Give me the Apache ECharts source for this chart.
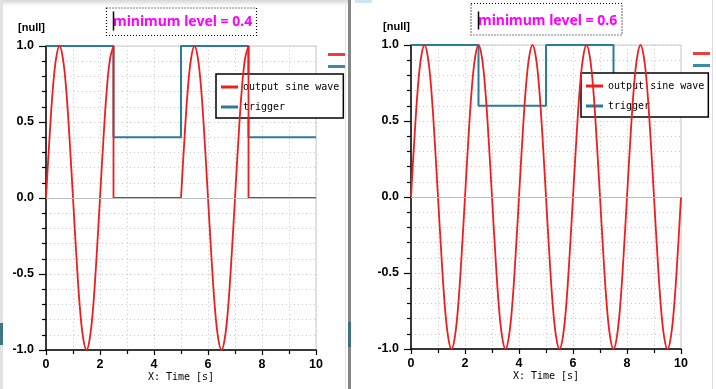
<!DOCTYPE html>
<html>
<head>
<meta charset="utf-8">
<script src="https://cdn.jsdelivr.net/npm/echarts@6/dist/echarts.min.js"></script>
<style>
html,body{margin:0;padding:0;background:#fff;}
#chart{width:716px;height:389px;}
</style>
</head>
<body>
<div id="chart"></div>
<script>
// ---------- data ----------
const seriesNames = ['output sine wave', 'trigger'];
const annotationTexts = ['minimum level = 0.4', 'minimum level = 0.6'];
const yAxisName = '[null]';
const xAxisName = 'X: Time [s]';

// left panel (minimum level = 0.4)
const leftSineTimesA = [0,0.125,0.25,0.375,0.5,0.625,0.75,0.875,1,1.125,1.25,1.375,1.5,1.625,1.75,1.875,2,2.125,2.25,2.375,2.5];
const leftSineValuesA = [0,0.38,0.71,0.92,1,0.92,0.71,0.38,0,-0.38,-0.71,-0.92,-1,-0.92,-0.71,-0.38,0,0.38,0.71,0.92,1];
const leftSineTimesB = [5,5.125,5.25,5.375,5.5,5.625,5.75,5.875,6,6.125,6.25,6.375,6.5,6.625,6.75,6.875,7,7.125,7.25,7.375,7.5];
const leftSineValuesB = [0,0.38,0.71,0.92,1,0.92,0.71,0.38,0,-0.38,-0.71,-0.92,-1,-0.92,-0.71,-0.38,0,0.38,0.71,0.92,1];
const leftHoldTimesA = [2.5,2.5,5];
const leftHoldValuesA = [1,0,0];
const leftHoldTimesB = [7.5,7.5,10];
const leftHoldValuesB = [1,0,0];
const triggerTimes = [0,2.5,2.5,5,5,7.5,7.5,10];
const leftTriggerValues = [1,1,0.4,0.4,1,1,0.4,0.4];

// right panel (minimum level = 0.6)
const rightSineTimes = [
  0,0.125,0.25,0.375,0.5,0.625,0.75,0.875,1,1.125,1.25,1.375,1.5,1.625,1.75,1.875,
  2,2.125,2.25,2.375,2.5,2.625,2.75,2.875,3,3.125,3.25,3.375,3.5,3.625,3.75,3.875,
  4,4.125,4.25,4.375,4.5,4.625,4.75,4.875,5,5.125,5.25,5.375,5.5,5.625,5.75,5.875,
  6,6.125,6.25,6.375,6.5,6.625,6.75,6.875,7,7.125,7.25,7.375,7.5,7.625,7.75,7.875,
  8,8.125,8.25,8.375,8.5,8.625,8.75,8.875,9,9.125,9.25,9.375,9.5,9.625,9.75,9.875,
  10];
const rightSineValues = [
  0,0.38,0.71,0.92,1,0.92,0.71,0.38,0,-0.38,-0.71,-0.92,-1,-0.92,-0.71,-0.38,
  0,0.38,0.71,0.92,1,0.92,0.71,0.38,0,-0.38,-0.71,-0.92,-1,-0.92,-0.71,-0.38,
  0,0.38,0.71,0.92,1,0.92,0.71,0.38,0,-0.38,-0.71,-0.92,-1,-0.92,-0.71,-0.38,
  0,0.38,0.71,0.92,1,0.92,0.71,0.38,0,-0.38,-0.71,-0.92,-1,-0.92,-0.71,-0.38,
  0,0.38,0.71,0.92,1,0.92,0.71,0.38,0,-0.38,-0.71,-0.92,-1,-0.92,-0.71,-0.38,
  0];
const rightTriggerValues = [1,1,0.6,0.6,1,1,0.6,0.6];

// axis ranges / ticks
const xMin = 0, xMax = 10, xInterval = 2;
const yMin = -1, yMax = 1, yInterval = 0.5;

// ---------- build ----------
const zip = (xs, ys) => xs.map((x, i) => [x, ys[i]]);
const RED = '#ee1e1e';
const TEAL = '#2a7c99';
const GRIDC = '#c9c9c9';

function xAxisFor(gi) {
  return {
    type: 'value', gridIndex: gi, min: xMin, max: xMax, interval: xInterval,
    axisLine: { show: true, onZero: false, lineStyle: { color: '#000', width: 1.5 } },
    axisTick: { show: true, length: 5, lineStyle: { color: '#000', width: 1.2 } },
    minorTick: { show: true, splitNumber: 2, length: 4, lineStyle: { color: '#000', width: 1.2 } },
    axisLabel: { color: '#000', fontFamily: 'Liberation Sans', fontWeight: 'bold', fontSize: 12.5, margin: 8 },
    splitLine: { show: true, lineStyle: { color: GRIDC, type: [1, 3], width: 1 } },
    minorSplitLine: { show: true, lineStyle: { color: GRIDC, type: [1, 3], width: 1 } },
    name: xAxisName, nameLocation: 'middle', nameGap: 15, nameMoveOverlap: false,
    nameTextStyle: { fontFamily: 'DejaVu Sans Mono', fontSize: 10, color: '#000', backgroundColor: '#fff',
      padding: [6, 10, 4, 10], lineHeight: 12 }
  };
}
function yAxisFor(gi) {
  return {
    type: 'value', gridIndex: gi, min: yMin, max: yMax, interval: yInterval,
    axisLine: { show: true, onZero: false, lineStyle: { color: '#000', width: 1.5 } },
    axisTick: { show: true, length: 7, lineStyle: { color: '#000', width: 1.2 } },
    minorTick: { show: true, splitNumber: 5, length: 4, lineStyle: { color: '#000', width: 1.2 } },
    axisLabel: { color: '#000', fontFamily: 'Liberation Sans', fontWeight: 'bold', fontSize: 12.5, margin: 12,
      formatter: v => v.toFixed(1) },
    splitLine: { show: true, lineStyle: { color: GRIDC, type: [1, 3], width: 1 } },
    minorSplitLine: { show: true, lineStyle: { color: GRIDC, type: [1, 3], width: 1 } },
    name: yAxisName, nameLocation: 'end', nameGap: 18, nameMoveOverlap: false,
    nameTextStyle: { fontFamily: 'Liberation Sans', fontWeight: 'bold', fontSize: 11, color: '#000',
      align: 'right', verticalAlign: 'middle', padding: [0, 1, 0, 0] }
  };
}
function outSeries(gi, data, smooth) {
  return {
    type: 'line', name: seriesNames[0], xAxisIndex: gi, yAxisIndex: gi, data: data,
    showSymbol: false, symbol: 'none', smooth: smooth, z: 4,
    lineStyle: { color: RED, width: 1.8 }, itemStyle: { color: RED }
  };
}
function trigSeries(gi, data) {
  return {
    type: 'line', name: seriesNames[1], xAxisIndex: gi, yAxisIndex: gi, data: data,
    showSymbol: false, symbol: 'none', z: 3,
    lineStyle: { color: TEAL, width: 2 }, itemStyle: { color: TEAL },
    markLine: { silent: true, symbol: 'none', label: { show: false }, animation: false,
      lineStyle: { color: '#bdbdbd', type: 'solid', width: 1 }, data: [{ yAxis: 0 }] }
  };
}
function legendFor(left, top) {
  return {
    orient: 'vertical', left: left, top: top, data: seriesNames,
    icon: 'rect', itemWidth: 17, itemHeight: 3, itemGap: 8,
    padding: [7, 4, 5, 5], backgroundColor: '#fff', borderColor: '#000', borderWidth: 1.5,
    textStyle: { fontFamily: 'DejaVu Sans Mono', fontSize: 10, color: '#000', lineHeight: 12 },
    selectedMode: false
  };
}

const chart = echarts.init(document.getElementById('chart'), null, { renderer: 'canvas' });
const option = {
  animation: false,
  backgroundColor: '#fff',
  grid: [
    { left: 46, top: 46, width: 270, height: 304, show: true, borderColor: '#c8c8c8', borderWidth: 1,
      backgroundColor: 'transparent', containLabel: false, outerBoundsMode: 'none' },
    { left: 411, top: 45, width: 270, height: 304, show: true, borderColor: '#c8c8c8', borderWidth: 1,
      backgroundColor: 'transparent', containLabel: false, outerBoundsMode: 'none' }
  ],
  xAxis: [xAxisFor(0), xAxisFor(1)],
  yAxis: [yAxisFor(0), yAxisFor(1)],
  legend: [legendFor(216, 74), legendFor(581, 73)],
  series: [
    trigSeries(0, zip(triggerTimes, leftTriggerValues)),
    outSeries(0, zip(leftSineTimesA, leftSineValuesA), 0.4),
    outSeries(0, zip(leftSineTimesB, leftSineValuesB), 0.4),
    outSeries(0, zip(leftHoldTimesA, leftHoldValuesA), false),
    outSeries(0, zip(leftHoldTimesB, leftHoldValuesB), false),
    trigSeries(1, zip(triggerTimes, rightTriggerValues)),
    outSeries(1, zip(rightSineTimes, rightSineValues), 0.4)
  ],
  graphic: [
    // window chrome
    { type: 'rect', shape: { x: 0, y: 0, width: 348, height: 6 }, z: 0,
      style: { fill: new echarts.graphic.LinearGradient(0, 0, 0, 1, [{ offset: 0, color: '#d6d6d6' }, { offset: 1, color: '#ffffff' }]) } },
    { type: 'rect', shape: { x: 0, y: 0, width: 3, height: 389 }, z: 0, style: { fill: '#e2e2e2' } },
    { type: 'rect', shape: { x: 0, y: 323, width: 3, height: 22 }, z: 0, style: { fill: '#3f7585' } },
    { type: 'rect', shape: { x: 345, y: 0, width: 1, height: 389 }, z: 0, style: { fill: '#e4e4e4' } },
    { type: 'rect', shape: { x: 348, y: 0, width: 3, height: 389 }, z: 0, style: { fill: '#858585' } },
    { type: 'rect', shape: { x: 348, y: 322, width: 3, height: 25 }, z: 0, style: { fill: '#3f6f7c' } },
    { type: 'rect', shape: { x: 355, y: 0, width: 17, height: 3 }, z: 0, style: { fill: '#cfe4f3' } },
    { type: 'rect', shape: { x: 712, y: 0, width: 1, height: 389 }, z: 0, style: { fill: '#dcdcdc' } },
    // cut-off legends at right edges
    { type: 'rect', shape: { x: 328, y: 53, width: 17, height: 3 }, z: 5, style: { fill: '#e84040' } },
    { type: 'rect', shape: { x: 328, y: 65, width: 17, height: 3 }, z: 5, style: { fill: '#3c8aa6' } },
    { type: 'rect', shape: { x: 693, y: 52, width: 17, height: 3 }, z: 5, style: { fill: '#e84040' } },
    { type: 'rect', shape: { x: 693, y: 64, width: 17, height: 3 }, z: 5, style: { fill: '#3c8aa6' } },
    // annotation boxes
    { type: 'rect', shape: { x: 106.5, y: 8, width: 150, height: 27.5 }, z: 5,
      style: { fill: '#fff', stroke: '#000', lineWidth: 1.2, lineDash: [1, 2] } },
    { type: 'text', x: 113, y: 22.5, z: 6,
      style: { text: annotationTexts[0], fill: '#f0f', font: 'bold 14px "Noto Sans"', verticalAlign: 'middle', align: 'left' } },
    { type: 'line', shape: { x1: 113.5, y1: 11.5, x2: 113.5, y2: 30.5 }, z: 7, style: { stroke: '#000', lineWidth: 1.5 } },
    { type: 'rect', shape: { x: 471, y: 3.5, width: 151, height: 31.5 }, z: 5,
      style: { fill: '#fff', stroke: '#000', lineWidth: 1.2, lineDash: [1, 2] } },
    { type: 'text', x: 478, y: 21.5, z: 6,
      style: { text: annotationTexts[1], fill: '#f0f', font: 'bold 14px "Noto Sans"', verticalAlign: 'middle', align: 'left' } },
    { type: 'line', shape: { x1: 478.5, y1: 11.5, x2: 478.5, y2: 29.5 }, z: 7, style: { stroke: '#000', lineWidth: 1.5 } }
  ]
};
chart.setOption(option);
</script>
</body>
</html>
